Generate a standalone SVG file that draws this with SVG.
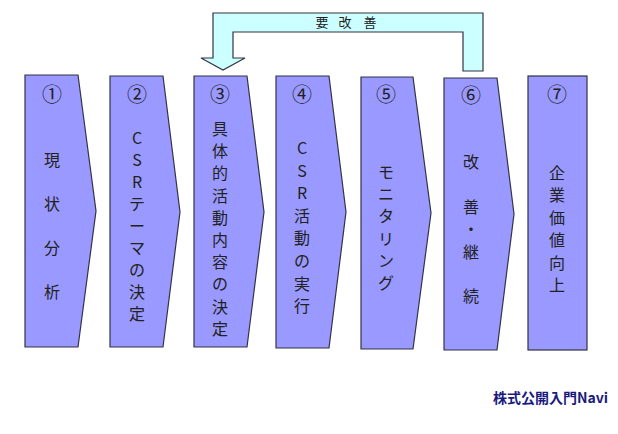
<svg xmlns="http://www.w3.org/2000/svg" width="618" height="434" viewBox="0 0 618 434">
<style>
.step{fill:#9999ff;stroke:#333344;stroke-width:1.2;}
.lbl{font-family:"Noto Sans CJK JP","Liberation Sans",sans-serif;font-size:16px;fill:#222222;text-anchor:middle;}
.num{font-family:"Noto Sans CJK JP","Liberation Sans",sans-serif;font-size:20px;fill:#222222;text-anchor:middle;}
.fb{fill:#ccffff;stroke:#333344;stroke-width:1.2;}
.fbt{font-family:"Noto Sans CJK JP",sans-serif;font-size:13px;fill:#222222;text-anchor:middle;}
</style>
<rect width="618" height="434" fill="#ffffff"/>
<g id="connectors">
<polygon class="fb" points="213,13 483,13 483,71 463,71 463,32 233,32 233,58 245,58 223,70 201,58 213,58"/>
<text class="fbt"><tspan x="322" y="27">要</tspan><tspan x="345" y="27">改</tspan><tspan x="370" y="27">善</tspan></text>
</g>
<g id="step1">
<polygon class="step" points="25,75 78,75 96,211 78,347 25,347"/>
<text class="num" x="52" y="102">①</text>
<text class="lbl"><tspan x="52" y="166">現</tspan><tspan x="52" dy="44">状</tspan><tspan x="52" dy="44">分</tspan><tspan x="52" dy="44">析</tspan></text>
</g>
<g id="step2">
<polygon class="step" points="110,76 163,76 180,212 163,347 110,347"/>
<text class="num" x="137" y="102">②</text>
<text class="lbl"><tspan x="137" y="144">C</tspan><tspan x="137" dy="22">S</tspan><tspan x="137" dy="22">R</tspan><tspan x="137" dy="22">テ</tspan><tspan x="137" dy="22">ー</tspan><tspan x="137" dy="22">マ</tspan><tspan x="137" dy="22">の</tspan><tspan x="137" dy="22">決</tspan><tspan x="137" dy="22">定</tspan></text>
</g>
<g id="step3">
<polygon class="step" points="194,76 247,76 264,212 247,347 194,347"/>
<text class="num" x="220" y="102">③</text>
<text class="lbl"><tspan x="220" y="135">具</tspan><tspan x="220" dy="22.2">体</tspan><tspan x="220" dy="22.2">的</tspan><tspan x="220" dy="22.2">活</tspan><tspan x="220" dy="22.2">動</tspan><tspan x="220" dy="22.2">内</tspan><tspan x="220" dy="22.2">容</tspan><tspan x="220" dy="22.2">の</tspan><tspan x="220" dy="22.2">決</tspan><tspan x="220" dy="22.2">定</tspan></text>
</g>
<g id="step4">
<polygon class="step" points="276,76 329,76 346,212 329,348 276,348"/>
<text class="num" x="302" y="102">④</text>
<text class="lbl"><tspan x="302" y="154">C</tspan><tspan x="302" dy="22.6">S</tspan><tspan x="302" dy="22.6">R</tspan><tspan x="302" dy="22.6">活</tspan><tspan x="302" dy="22.6">動</tspan><tspan x="302" dy="22.6">の</tspan><tspan x="302" dy="22.6">実</tspan><tspan x="302" dy="22.6">行</tspan></text>
</g>
<g id="step5">
<polygon class="step" points="361,77 413,77 431,213 413,349 361,349"/>
<text class="num" x="386" y="102">⑤</text>
<text class="lbl"><tspan x="386" y="178">モ</tspan><tspan x="386" dy="22.2">ニ</tspan><tspan x="386" dy="22.2">タ</tspan><tspan x="386" dy="22.2">リ</tspan><tspan x="386" dy="22.2">ン</tspan><tspan x="386" dy="22.2">グ</tspan></text>
</g>
<g id="step6">
<polygon class="step" points="444,78 497,78 514,214 497,350 444,350"/>
<text class="num" x="471" y="103">⑥</text>
<text class="lbl"><tspan x="471" y="168">改</tspan><tspan x="471" dy="44.8">善</tspan><tspan x="471" dy="22.4">・</tspan><tspan x="471" dy="22.4">継</tspan><tspan x="471" dy="44.8">続</tspan></text>
</g>
<g id="step7">
<rect class="step" x="528" y="76" width="59" height="274"/>
<text class="num" x="557" y="102">⑦</text>
<text class="lbl"><tspan x="557" y="179">企</tspan><tspan x="557" dy="22.4">業</tspan><tspan x="557" dy="22.4">価</tspan><tspan x="557" dy="22.4">値</tspan><tspan x="557" dy="22.4">向</tspan><tspan x="557" dy="22.4">上</tspan></text>
</g>
<text x="493" y="403" style="font-family:'Noto Sans CJK JP','Liberation Sans',sans-serif;font-size:14px;font-weight:bold;fill:#1a1a80;">株式公開入門Navi</text>
</svg>
